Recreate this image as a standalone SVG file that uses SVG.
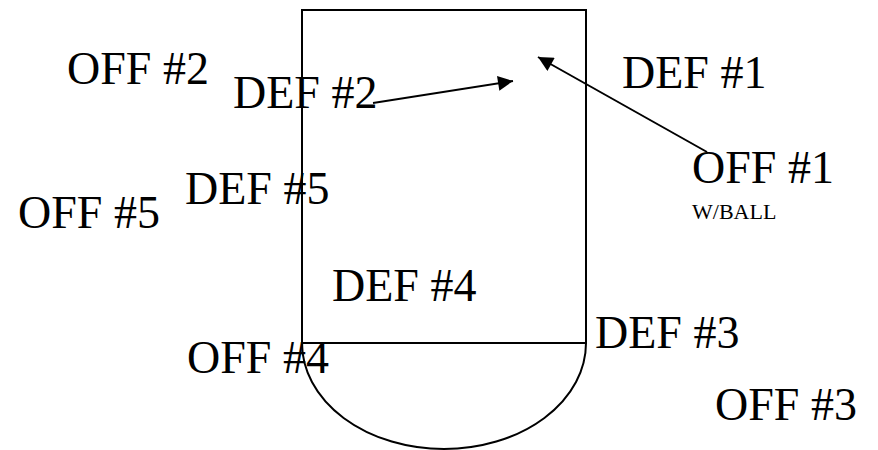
<svg xmlns="http://www.w3.org/2000/svg" width="878" height="450" viewBox="0 0 878 450">
<defs>
<style>
.t{font-family:"Liberation Serif","Times New Roman",serif;font-size:46px;fill:#000}
.s{font-family:"Liberation Serif","Times New Roman",serif;font-size:22px;fill:#000}
.ln{fill:none;stroke:#000;stroke-width:2}
</style>
<marker id="ah" viewBox="0 0 10 10" refX="10" refY="5" markerWidth="9.5" markerHeight="7.5" markerUnits="strokeWidth" orient="auto">
<path d="M0,0 L10,5 L0,10 z" fill="#000"/>
</marker>
</defs>
<rect width="878" height="450" fill="#fff"/>
<g id="court">
<path class="ln" d="M302,343 L302,10 L586,10 L586,343 Z"/>
<path class="ln" d="M302,343 A142,106 0 0 0 586,343"/>
</g>
<g id="connectors">
<line class="ln" x1="373" y1="103" x2="513" y2="81" marker-end="url(#ah)"/>
<line class="ln" x1="707" y1="152" x2="538" y2="57" marker-end="url(#ah)"/>
</g>
<g id="off2"><text class="t" x="67" y="84">OFF #2</text></g>
<g id="def2"><text class="t" x="233" y="108">DEF #2</text></g>
<g id="def1"><text class="t" x="622" y="88">DEF #1</text></g>
<g id="off1"><text class="t" x="692" y="183">OFF #1</text><text class="s" x="692" y="219">W/BALL</text></g>
<g id="def5"><text class="t" x="185" y="204">DEF #5</text></g>
<g id="off5"><text class="t" x="18" y="228">OFF #5</text></g>
<g id="def4"><text class="t" x="332" y="301">DEF #4</text></g>
<g id="off4"><text class="t" x="187" y="373">OFF #4</text></g>
<g id="def3"><text class="t" x="595" y="348">DEF #3</text></g>
<g id="off3"><text class="t" x="715" y="420">OFF #3</text></g>
</svg>
